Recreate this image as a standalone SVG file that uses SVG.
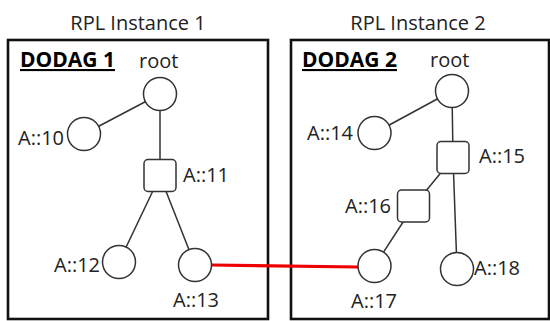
<svg xmlns="http://www.w3.org/2000/svg" width="550" height="321" viewBox="0 0 550 321">
<style>
text{font-family:"Open Sans","Noto Sans",sans-serif;fill:#222;}
.t{font-size:20px;text-anchor:middle;}
.l{font-size:20px;}
.h{font-size:21px;font-weight:bold;text-decoration:underline;fill:#000;}
.box{fill:none;stroke:#111;stroke-width:2.6;}
.n{fill:#fff;stroke:#333;stroke-width:1.5;}
.e{stroke:#333;stroke-width:1.5;fill:none;}
.r{stroke:#ee0000;stroke-width:3.2;fill:none;}
</style>
<rect width="550" height="321" fill="#fff"/>
<g id="instance1">
<text class="t" x="138" y="30">RPL Instance 1</text>
<rect class="box" x="8" y="40" width="260" height="279"/>
<text class="h" x="20" y="67">DODAG 1</text>
</g>
<g id="instance2">
<text class="t" x="418" y="30">RPL Instance 2</text>
<rect class="box" x="291" y="40" width="258" height="279"/>
<text class="h" x="302" y="67">DODAG 2</text>
</g>
<g id="connectors">
<line class="e" x1="160" y1="94" x2="84" y2="134"/>
<line class="e" x1="160" y1="94" x2="160" y2="176"/>
<line class="e" x1="160" y1="176" x2="119" y2="262"/>
<line class="e" x1="160" y1="176" x2="195" y2="265"/>
<line class="e" x1="452" y1="91" x2="374.5" y2="133"/>
<line class="e" x1="452" y1="91" x2="453" y2="158"/>
<line class="e" x1="453" y1="158" x2="413.5" y2="206"/>
<line class="e" x1="453" y1="158" x2="457" y2="269"/>
<line class="e" x1="413.5" y1="206" x2="374.5" y2="266"/>
<line class="r" x1="211.5" y1="265" x2="358" y2="267"/>
</g>
<g id="root1">
<circle class="n" cx="160" cy="94" r="16.5"/>
<text class="l" x="139" y="68">root</text>
</g>
<g id="a10">
<circle class="n" cx="84" cy="134" r="16.5"/>
<text class="l" x="18" y="145">A::10</text>
</g>
<g id="a11">
<rect class="n" x="144" y="159.5" width="32" height="32" rx="4"/>
<text class="l" x="183" y="182">A::11</text>
</g>
<g id="a12">
<circle class="n" cx="119" cy="262" r="16.5"/>
<text class="l" x="54" y="272">A::12</text>
</g>
<g id="a13">
<circle class="n" cx="195" cy="265" r="16.5"/>
<text class="l" x="173" y="307">A::13</text>
</g>
<g id="root2">
<circle class="n" cx="452" cy="91" r="16.5"/>
<text class="l" x="430" y="67">root</text>
</g>
<g id="a14">
<circle class="n" cx="374.5" cy="133" r="16.5"/>
<text class="l" x="307" y="140">A::14</text>
</g>
<g id="a15">
<rect class="n" x="437" y="141.5" width="32" height="32" rx="4"/>
<text class="l" x="479" y="163">A::15</text>
</g>
<g id="a16">
<rect class="n" x="397.5" y="190" width="32" height="32" rx="4"/>
<text class="l" x="345" y="213">A::16</text>
</g>
<g id="a17">
<circle class="n" cx="374.5" cy="266" r="16.5"/>
<text class="l" x="351" y="308">A::17</text>
</g>
<g id="a18">
<circle class="n" cx="457" cy="269" r="16.5"/>
<text class="l" x="474" y="275">A::18</text>
</g>
</svg>
